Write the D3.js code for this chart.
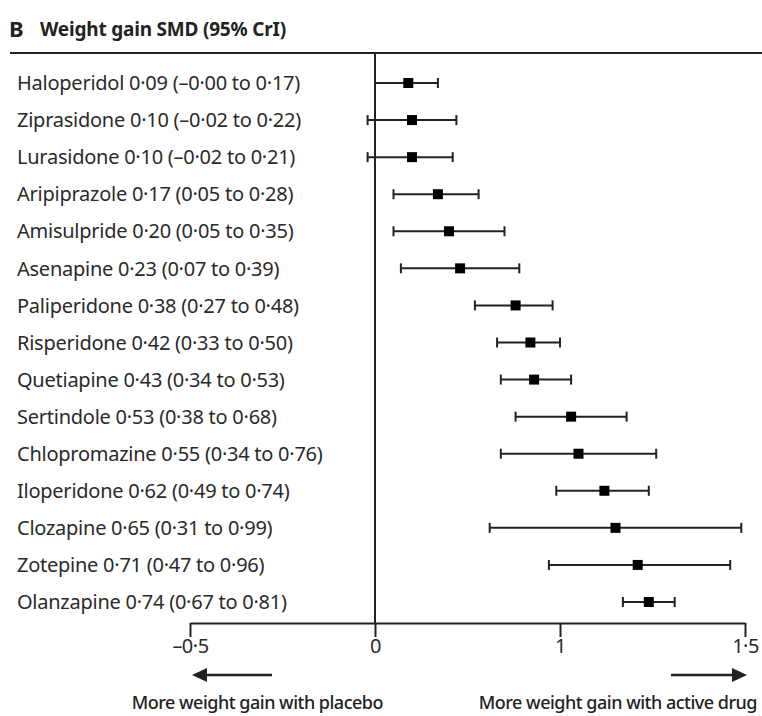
<!DOCTYPE html>
<html>
<head>
<meta charset="utf-8">
<script src="https://cdn.jsdelivr.net/npm/d3@7"></script>
<style>
  body { margin: 0; background: #fff; }
  svg { display: block; font-family: "Noto Sans", "Open Sans", sans-serif; }
</style>
</head>
<body>
<svg id="chart" width="762" height="716"></svg>
<script>
// drugs, top to bottom, as printed (spelling kept)
var drugs = ['Haloperidol', 'Ziprasidone', 'Lurasidone', 'Aripiprazole', 'Amisulpride',
  'Asenapine', 'Paliperidone', 'Risperidone', 'Quetiapine', 'Sertindole',
  'Chlopromazine', 'Iloperidone', 'Clozapine', 'Zotepine', 'Olanzapine'];
var smd = [0.09, 0.10, 0.10, 0.17, 0.20, 0.23, 0.38, 0.42, 0.43, 0.53, 0.55, 0.62, 0.65, 0.71, 0.74];
var lower = [-0.00, -0.02, -0.02, 0.05, 0.05, 0.07, 0.27, 0.33, 0.34, 0.38, 0.34, 0.49, 0.31, 0.47, 0.67];
var upper = [0.17, 0.22, 0.21, 0.28, 0.35, 0.39, 0.48, 0.50, 0.53, 0.68, 0.76, 0.74, 0.99, 0.96, 0.81];

// tick positions (SMD) and the labels printed under them in the original
var tickValues = [-0.5, 0, 0.5, 1];
var tickLabels = ['\u20130\u00b75', '0', '1', '1\u00b75'];

var ink = '#222';
var svg = d3.select('#chart');

function fmt(v) {
  var neg = v < 0 || Object.is(v, -0);
  return (neg ? '\u2013' : '') + Math.abs(v).toFixed(2).replace('.', '\u00b7');
}

var x = d3.scaleLinear().domain([-0.5, 1]).range([190, 745]);
var y = d3.scalePoint().domain(drugs).range([83, 602]);
var axisY = 623;

// title
svg.append('text').attr('x', 9).attr('y', 37)
  .attr('font-size', 22).attr('font-weight', 'bold').attr('fill', ink).text('B');
svg.append('text').attr('x', 40).attr('y', 36)
  .attr('font-size', 19).attr('font-weight', 'bold').attr('fill', ink)
  .attr('letter-spacing', -0.2)
  .text('Weight gain SMD (95% CrI)');
svg.append('line').attr('x1', 10).attr('x2', 762).attr('y1', 53).attr('y2', 53)
  .attr('stroke', ink).attr('stroke-width', 2);

// zero line
svg.append('line').attr('x1', x(0)).attr('x2', x(0)).attr('y1', 53).attr('y2', axisY)
  .attr('stroke', ink).attr('stroke-width', 2);

var rows = drugs.map(function(d, i) {
  return { name: d, est: smd[i], lo: lower[i], hi: upper[i] };
});

// labels
svg.selectAll('.label').data(rows).enter().append('text')
  .attr('class', 'label')
  .attr('x', 17)
  .attr('y', function(d) { return y(d.name); })
  .attr('dy', '0.36em')
  .attr('font-size', 20)
  .attr('letter-spacing', -0.25)
  .attr('fill', '#2a2a2a')
  .text(function(d) {
    return d.name + ' ' + fmt(d.est) + ' (' + fmt(d.lo) + ' to ' + fmt(d.hi) + ')';
  });

var g = svg.selectAll('.row').data(rows).enter().append('g')
  .attr('class', 'row')
  .attr('transform', function(d) { return 'translate(0,' + y(d.name) + ')'; });

g.append('line')
  .attr('x1', function(d) { return x(d.lo); })
  .attr('x2', function(d) { return x(d.hi); })
  .attr('stroke', ink).attr('stroke-width', 2);

g.selectAll('.cap').data(function(d) { return [d.lo, d.hi]; }).enter().append('line')
  .attr('class', 'cap')
  .attr('x1', function(v) { return x(v); })
  .attr('x2', function(v) { return x(v); })
  .attr('y1', -5).attr('y2', 5)
  .attr('stroke', ink).attr('stroke-width', 2);

g.append('rect')
  .attr('x', function(d) { return x(d.est) - 5; })
  .attr('y', -5)
  .attr('width', 10).attr('height', 10)
  .attr('fill', '#000');

// axis
var axis = d3.axisBottom(x)
  .tickValues(tickValues)
  .tickFormat(function(d, i) { return tickLabels[i]; })
  .tickSize(14)
  .tickSizeOuter(0);

var ax = svg.append('g').attr('transform', 'translate(0,' + axisY + ')').call(axis);
ax.select('.domain').attr('stroke', ink).attr('stroke-width', 2);
ax.selectAll('.tick line').attr('stroke', ink).attr('stroke-width', 2);
ax.selectAll('.tick text')
  .attr('font-family', '"Noto Sans", "Open Sans", sans-serif')
  .attr('font-size', 20).attr('letter-spacing', -0.5)
  .attr('fill', '#2a2a2a').attr('y', 16).attr('dy', '0.71em');

// direction arrows
var arrowY = 675;
function arrow(x1, x2) {
  var dir = x2 > x1 ? 1 : -1;
  svg.append('line').attr('x1', x1).attr('x2', x2 - dir * 10)
    .attr('y1', arrowY).attr('y2', arrowY)
    .attr('stroke', ink).attr('stroke-width', 2.5);
  svg.append('path')
    .attr('d', 'M' + x2 + ',' + arrowY + 'L' + (x2 - dir * 15) + ',' + (arrowY - 7) +
      'L' + (x2 - dir * 15) + ',' + (arrowY + 7) + 'Z')
    .attr('fill', ink);
}
arrow(x(-0.5) + 82, x(-0.5) + 2);
arrow(x(1) - 74, x(1) + 2);

svg.append('text').attr('x', 383).attr('y', 703).attr('dy', '0.35em')
  .attr('text-anchor', 'end').attr('font-size', 18).attr('letter-spacing', -0.5)
  .attr('font-weight', 500).attr('fill', ink)
  .text('More weight gain with placebo');
svg.append('text').attr('x', 757).attr('y', 703).attr('dy', '0.35em')
  .attr('text-anchor', 'end').attr('font-size', 18).attr('letter-spacing', -0.5)
  .attr('font-weight', 500).attr('fill', ink)
  .text('More weight gain with active drug');
</script>
</body>
</html>
